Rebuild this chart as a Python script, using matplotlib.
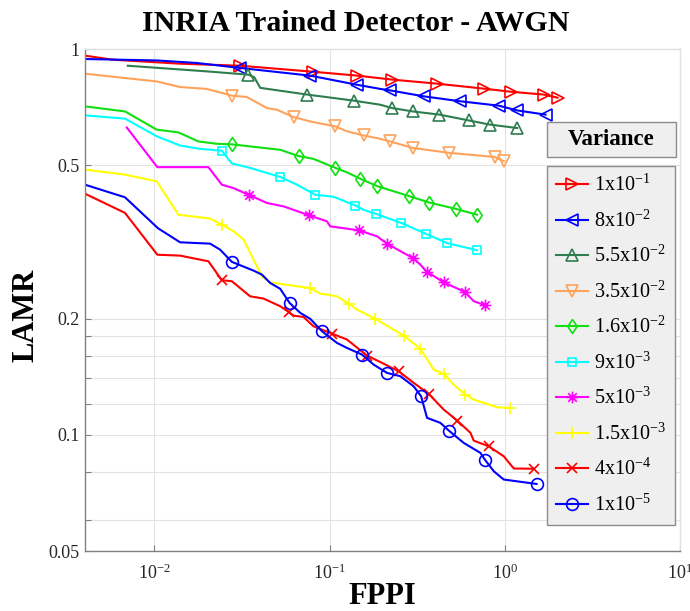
import matplotlib
matplotlib.use("Agg")
import matplotlib.pyplot as plt
from matplotlib.path import Path
from matplotlib.patches import Rectangle
from matplotlib.ticker import FixedLocator, FixedFormatter, NullLocator

plt.rcParams["font.family"] = ["Liberation Serif", "DejaVu Serif"]
plt.rcParams["mathtext.fontset"] = "custom"
plt.rcParams["mathtext.rm"] = "Liberation Serif"
plt.rcParams["mathtext.it"] = "Liberation Serif:italic"
plt.rcParams["mathtext.bf"] = "Liberation Serif:bold"

# ---- miss-rate / FPPI curves, one per noise variance ----
fppi_1e1 = [0.00402, 0.00581, 0.01403, 0.0309, 0.0807, 0.144, 0.228, 0.412, 0.766, 1.079, 1.664, 2.0]
lamr_1e1 = [0.961, 0.938, 0.916, 0.905, 0.873, 0.853, 0.833, 0.813, 0.789, 0.775, 0.762, 0.748]
marks_1e1 = [3, 4, 5, 6, 7, 8, 9, 10, 11]

fppi_8e2 = [0.00402, 0.01032, 0.01747, 0.0309, 0.0776, 0.143, 0.195, 0.222, 0.344, 0.558, 0.925, 1.178, 1.709]
lamr_8e2 = [0.942, 0.934, 0.920, 0.893, 0.853, 0.808, 0.788, 0.781, 0.754, 0.732, 0.713, 0.693, 0.676]
marks_8e2 = [3, 4, 5, 7, 8, 9, 10, 11, 12]

fppi_55e3 = [0.00705, 0.01993, 0.0344, 0.0372, 0.0402, 0.0743, 0.137, 0.195, 0.2273, 0.298, 0.424, 0.622, 0.820, 1.178]
lamr_55e3 = [0.905, 0.875, 0.858, 0.845, 0.793, 0.762, 0.735, 0.717, 0.703, 0.689, 0.676, 0.653, 0.637, 0.624]
marks_55e3 = [2, 5, 6, 8, 9, 10, 11, 12, 13]

fppi_35e3 = [0.00402, 0.01032, 0.01403, 0.01993, 0.0277, 0.0337, 0.0439, 0.0501, 0.0623, 0.0776,
             0.1078, 0.1257, 0.1564, 0.195, 0.222, 0.298, 0.483, 0.877, 0.986]
lamr_35e3 = [0.863, 0.824, 0.797, 0.788, 0.757, 0.751, 0.703, 0.696, 0.666, 0.649,
             0.630, 0.612, 0.597, 0.585, 0.576, 0.554, 0.538, 0.525, 0.512]
marks_35e3 = [4, 8, 10, 12, 14, 15, 16, 17, 18]

fppi_16e3 = [0.00402, 0.0068, 0.01032, 0.01371, 0.01784, 0.02273, 0.0278, 0.0523, 0.0665, 0.081,
             0.1078, 0.1257, 0.1498, 0.1874, 0.283, 0.371, 0.528, 0.695]
lamr_16e3 = [0.710, 0.689, 0.618, 0.608, 0.576, 0.568, 0.566, 0.548, 0.528, 0.519,
             0.492, 0.479, 0.461, 0.441, 0.416, 0.400, 0.385, 0.372]
marks_16e3 = [6, 8, 10, 12, 13, 14, 15, 16, 17]

fppi_9e3 = [0.00402, 0.0068, 0.01032, 0.01403, 0.01825, 0.02427, 0.0277, 0.0352, 0.0523, 0.0651,
            0.0829, 0.1054, 0.1402, 0.1564, 0.1837, 0.257, 0.3545, 0.469, 0.695]
lamr_9e3 = [0.673, 0.660, 0.594, 0.562, 0.551, 0.545, 0.505, 0.492, 0.466, 0.445,
            0.419, 0.414, 0.393, 0.383, 0.374, 0.354, 0.332, 0.314, 0.301]
marks_9e3 = [5, 8, 10, 12, 14, 15, 16, 17, 18]

fppi_5e3 = [0.00696, 0.0104, 0.02035, 0.02427, 0.0283, 0.0349, 0.0439, 0.0546, 0.0766, 0.0966,
            0.1009, 0.1464, 0.1866, 0.2128, 0.265, 0.301, 0.330, 0.358, 0.448, 0.591, 0.665, 0.776]
lamr_5e3 = [0.626, 0.494, 0.494, 0.445, 0.436, 0.418, 0.399, 0.391, 0.3705, 0.3576,
            0.347, 0.339, 0.327, 0.313, 0.296, 0.287, 0.276, 0.265, 0.2485, 0.2347, 0.222, 0.2167]
marks_5e3 = [5, 8, 11, 13, 15, 17, 18, 19, 21]

fppi_15e4 = [0.00402, 0.0068, 0.01032, 0.01371, 0.0208, 0.02427, 0.0283, 0.0323, 0.0411, 0.0458,
             0.0651, 0.0769, 0.0885, 0.1102, 0.1284, 0.1434, 0.1824, 0.265, 0.330, 0.393,
             0.448, 0.511, 0.596, 0.665, 0.905, 1.068]
lamr_15e4 = [0.487, 0.4725, 0.454, 0.372, 0.3635, 0.3507, 0.337, 0.3206, 0.2576, 0.2485,
             0.2427, 0.2404, 0.2324, 0.2286, 0.2189, 0.2112, 0.1998, 0.1808, 0.1671, 0.1476,
             0.1439, 0.135, 0.1272, 0.1234, 0.1179, 0.1175]
marks_15e4 = [5, 11, 14, 16, 17, 18, 20, 22, 25]

fppi_4e4 = [0.00402, 0.0068, 0.0104, 0.01403, 0.02035, 0.02427, 0.0277, 0.0352, 0.0420, 0.0523,
            0.0583, 0.0623, 0.0710, 0.0810, 0.1032, 0.1257, 0.1636, 0.195, 0.248, 0.302,
            0.368, 0.448, 0.535, 0.637, 0.665, 0.810, 0.986, 1.126, 1.465]
lamr_4e4 = [0.4217, 0.376, 0.293, 0.2914, 0.2817, 0.2516, 0.2501, 0.2286, 0.2255, 0.2154,
            0.2083, 0.2037, 0.2021, 0.1911, 0.1830, 0.1766, 0.1605, 0.1544, 0.1461, 0.1364,
            0.1277, 0.1163, 0.1089, 0.1012, 0.0966, 0.0934, 0.0880, 0.0818, 0.0817]
marks_4e4 = [5, 10, 14, 16, 18, 20, 22, 25, 28]

fppi_1e5 = [0.00402, 0.0068, 0.0105, 0.01403, 0.0208, 0.02373, 0.0277, 0.0368, 0.0411, 0.0458,
            0.0523, 0.0591, 0.0680, 0.0776, 0.0905, 0.1102, 0.1257, 0.1532, 0.1784, 0.2128,
            0.2535, 0.302, 0.333, 0.360, 0.429, 0.479, 0.583, 0.726, 0.769, 0.865, 0.986, 1.518]
lamr_1e5 = [0.445, 0.4127, 0.343, 0.3155, 0.313, 0.302, 0.2807, 0.2665, 0.2602, 0.2476,
            0.2390, 0.2198, 0.2071, 0.1998, 0.1856, 0.1731, 0.1680, 0.1614, 0.1521, 0.1447,
            0.1419, 0.1336, 0.1259, 0.1107, 0.1074, 0.1026, 0.0953, 0.0898, 0.0863, 0.0805, 0.0766, 0.0746]
marks_1e5 = [6, 11, 14, 17, 19, 22, 25, 28, 31]

labels = [r"1x10$^{-1}$", r"8x10$^{-2}$", r"5.5x10$^{-2}$", r"3.5x10$^{-2}$", r"1.6x10$^{-2}$",
          r"9x10$^{-3}$", r"5x10$^{-3}$", r"1.5x10$^{-3}$", r"4x10$^{-4}$", r"1x10$^{-5}$"]

y_ticks = [0.05, 0.06, 0.08, 0.1, 0.12, 0.14, 0.16, 0.18, 0.2, 0.5, 1]
y_ticklabels = ["0.05", "", "", "0.1", "", "", "", "", "0.2", "0.5", "1"]
x_ticks = [1e-2, 1e-1, 1e0, 1e1]

# ---- marker shapes ----
asterisk = Path([(-1, 0), (1, 0), (0, -1), (0, 1), (-0.72, -0.72), (0.72, 0.72), (-0.72, 0.72), (0.72, -0.72)],
                [Path.MOVETO, Path.LINETO] * 4)
diamond = Path([(0, 1), (0.68, 0), (0, -1), (-0.68, 0), (0, 1)],
               [Path.MOVETO, Path.LINETO, Path.LINETO, Path.LINETO, Path.CLOSEPOLY])

series = [
    (fppi_1e1, lamr_1e1, marks_1e1, "#ff0000", ">", 8.5),
    (fppi_8e2, lamr_8e2, marks_8e2, "#0000ff", "<", 8.5),
    (fppi_55e3, lamr_55e3, marks_55e3, "#2e7d4f", "^", 8.5),
    (fppi_35e3, lamr_35e3, marks_35e3, "#ffa35c", "v", 8.5),
    (fppi_16e3, lamr_16e3, marks_16e3, "#10e010", diamond, 10),
    (fppi_9e3, lamr_9e3, marks_9e3, "#00ffff", "s", 6.3),
    (fppi_5e3, lamr_5e3, marks_5e3, "#ff00ff", asterisk, 8.5),
    (fppi_15e4, lamr_15e4, marks_15e4, "#ffff00", "+", 8.5),
    (fppi_4e4, lamr_4e4, marks_4e4, "#ff0000", "x", 6.5),
    (fppi_1e5, lamr_1e5, marks_1e5, "#0000ff", "o", 8.5),
]

fig = plt.figure(figsize=(6.9, 6.11), dpi=100)
ax = fig.add_axes([85 / 690, 60 / 611, 595 / 690, 502 / 611])
ax.set_xscale("log")
ax.set_yscale("log")

for (x, y, mk, col, m, ms), lab in zip(series, labels):
    ax.plot(x, y, color=col, lw=1.5, marker=m, ms=ms, mfc="none", mec=col, mew=1.2,
            markevery=mk, label=lab)

ax.set_xlim(0.00402, 10)
ax.set_ylim(0.05, 1)

ax.xaxis.set_major_locator(FixedLocator(x_ticks))
ax.xaxis.set_minor_locator(NullLocator())
ax.yaxis.set_major_locator(FixedLocator(y_ticks))
ax.yaxis.set_major_formatter(FixedFormatter(y_ticklabels))
ax.yaxis.set_minor_locator(NullLocator())

ax.grid(True, which="major", color="#e3e3e3", lw=0.8)
ax.set_axisbelow(True)
ax.tick_params(direction="in", length=4, width=0.8, color="#808080", labelsize=13,
               labelcolor="#262626")
ax.tick_params(axis="x", pad=9)
ax.tick_params(axis="y", pad=4)
for s in ("left", "bottom"):
    ax.spines[s].set_color("#808080")
    ax.spines[s].set_linewidth(1.0)
for s in ("top", "right"):
    ax.spines[s].set_color("#e0e0e0")
    ax.spines[s].set_linewidth(1.0)

fig.text(356 / 690, 1 - 30.7 / 611, "INRIA Trained Detector - AWGN", ha="center", va="baseline",
         fontsize=21.5, fontweight="bold")
fig.text(26 / 690, 1 - 315 / 611, "LAMR", rotation=90, ha="center", va="center",
         fontsize=22, fontweight="bold")
fig.text(382 / 690, 1 - 596 / 611, "FPPI", ha="center", va="center",
         fontsize=22, fontweight="bold")

leg = ax.legend(loc="upper left", bbox_to_anchor=(547 / 690, 1 - 166 / 611),
                bbox_transform=fig.transFigure, borderaxespad=0, fontsize=14.5,
                handlelength=1.6, handletextpad=0.3, labelspacing=0.71, borderpad=0.45,
                fancybox=False, framealpha=1, numpoints=1)
leg.get_frame().set_facecolor("#efefef")
leg.get_frame().set_edgecolor("#8c8c8c")
leg.get_frame().set_linewidth(1.0)

fig.add_artist(Rectangle((547 / 690, 1 - 157 / 611), 129 / 690, 35 / 611, transform=fig.transFigure,
                         facecolor="#efefef", edgecolor="#8c8c8c", lw=1.0))
fig.text(611.5 / 690, 1 - 139.5 / 611, "Variance", ha="center", va="center",
         fontsize=16.5, fontweight="bold")

fig.savefig("out.png", dpi=100)
